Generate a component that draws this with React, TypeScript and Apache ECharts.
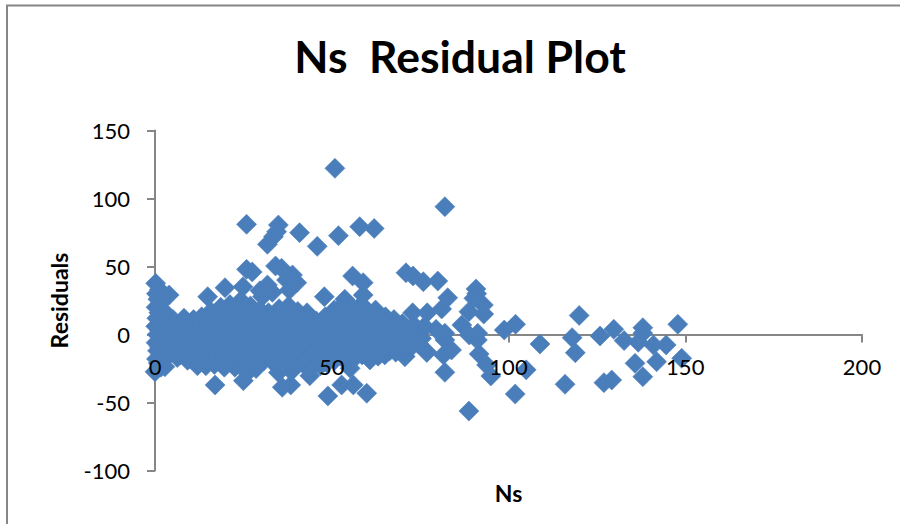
import React, { useEffect, useRef } from "react";
import * as echarts from "echarts";

const chartTitle = "Ns  Residual Plot";
const xTicks = [0, 50, 100, 150, 200];
const yTicks = [-100, -50, 0, 50, 100, 150];

const leftColumn: number[][] = [
  [0.2, 37.6], [1.2, 33], [0.4, 30], [0.8, 26], [1.5, 23], [0.3, 20], [1.1, 16], [2.2, 18], [4, 29], [0.5, 12], [1.8, 9], [3.1, 14],
  [0.2, 6], [1.3, 3], [2.6, 5], [0.6, 0], [1.9, -3], [0.3, -6], [1.2, -9], [2.8, -2], [0.7, -12], [1.6, -15], [0.4, -18], [2.5, -10],
  [0.9, -21], [0, -27.4], [2.8, -23.7], [3.6, -16], [1.7, -24],
];

const core: number[][] = [
  [5.1, 11], [5.6, 4], [4.8, -3], [5.4, -9], [5.9, -14],
  [8.2, 12], [7.6, 6], [8.4, 0], [7.8, -6], [8.1, -11], [7.2, -15],
  [10.9, 11], [10.3, 5], [11.2, -2], [10.6, -8], [11, -14], [10.1, -18],
  [13.2, 13], [13.8, 7], [12.9, 1], [13.5, -5], [13.1, -11], [13.7, -17], [12.6, -20],
  [15.8, 17], [16.3, 10], [15.5, 4], [16.1, -3], [15.7, -9], [16.4, -15], [15.2, -20], [16.8, -22],
  [18.6, 20], [18.1, 13], [18.9, 7], [18.3, 0], [19, -6], [18.4, -12], [18.8, -18], [19.6, -24],
  [21.2, 22], [21.7, 16], [20.9, 9], [21.5, 3], [21.1, -4], [21.8, -10], [21, -16], [21.6, -21],
  [24.3, 25], [23.8, 18], [24.5, 12], [24, 5], [24.6, -1], [23.9, -8], [24.4, -14], [24.1, -20], [24.9, -25],
  [27, 21], [26.6, 15], [27.3, 9], [26.8, 2], [27.4, -5], [26.7, -11], [27.2, -17], [27.7, -22],
  [29.7, 18], [29.2, 12], [29.9, 6], [29.4, -1], [30, -7], [29.3, -12], [30.4, -14],
  [32.1, 16], [32.6, 10], [31.9, 3], [32.5, -3], [32, -9], [32.7, -15], [33.2, -20],
  [35.1, 19], [34.7, 13], [35.4, 7], [34.9, 0], [35.5, -6], [34.8, -12], [35.2, -18], [35.9, -24], [34.9, -28],
  [37.8, 21], [37.3, 15], [38, 9], [37.5, 2], [38.2, -4], [37.6, -10], [38.1, -16], [37.4, -22], [38.6, -27],
  [40.4, 17], [39.9, 11], [40.6, 5], [40.1, -2], [40.7, -8], [40, -14], [40.5, -20],
  [43, 16], [42.6, 9], [43.3, 3], [42.8, -3], [43.4, -9], [42.7, -15], [43.1, -21], [43.6, -26],
  [45.6, 10], [45.2, 4], [45.9, -2], [45.4, -8], [46, -14], [45.3, -20],
  [48.2, 13], [47.8, 7], [48.4, 1], [47.9, -5], [48.5, -11], [48, -17], [48.6, -21],
  [50.7, 18], [50.2, 12], [50.9, 5], [50.4, -1], [51, -7], [50.3, -13], [50.8, -19],
  [53.3, 22], [52.8, 16], [53.5, 10], [53, 3], [53.6, -3], [52.9, -9], [53.4, -15], [54.1, -20],
  [55.8, 20], [55.4, 13], [56, 7], [55.5, 0], [56.2, -6], [55.6, -12], [56.6, -17],
  [58.4, 22], [58, 15], [58.7, 9], [58.2, 2], [58.8, -4], [58.1, -10], [58.6, -15],
  [60.9, 15], [60.5, 9], [61.2, 3], [60.7, -3], [61.3, -9], [60.6, -14],
  [63.5, 14], [63, 8], [63.7, 1], [63.2, -5], [63.8, -11], [62.4, 18], [63.1, -16],
  [66.1, 9], [65.6, 3], [66.3, -3], [65.8, -8], [66.4, -12], [65.2, 13], [67.6, 11],
  [68.7, 6], [68.2, 0], [68.9, -5], [68.4, -9], [68.1, -13], [70, 8],
  [71, 3], [70.6, -2], [71.3, -7], [73.2, 7], [73.6, -3], [71.8, -11], [74.6, -7], [76.2, 6], [75.4, -3],
  [6.3, -17], [9.2, -19], [12, -23], [14.4, -23], [22.6, -24], [28.6, -25], [30.9, -19], [46.8, -23], [44.7, -18],
];

const upperScatter: number[][] = [
  [50.9, 122.2], [25.9, 81], [34.9, 80.5], [34.4, 75.6], [33.5, 71.9], [31.8, 66.3], [40.9, 74.9], [45.9, 64.8], [51.9, 72.7],
  [57.9, 79.3], [62, 78], [25.9, 47.9], [24.9, 35.1], [19.8, 34.4], [14.9, 27.8], [34.1, 50.4], [35.8, 48.7], [38.9, 43.8],
  [40.1, 38.1], [31.8, 36.4], [29.7, 32.2], [38, 32.7], [47.9, 27.8], [55.9, 43], [58.9, 38.1], [58.9, 29], [53.7, 25.9],
  [37.2, 40], [27.5, 46], [30.4, 28], [33.2, 31],
];

const lowerScatter: number[][] = [
  [17, -37.1], [25, -34], [26.4, -27.4], [36, -38.8], [38.4, -37.1], [43.8, -30.3], [48.9, -45.2], [52.8, -37.1], [56.1, -37.1],
  [59.9, -43.2], [55.2, -24.9], [60.8, -18.7], [65, -15], [70.7, -16.3], [76.9, -13.1],
];

const tail: number[][] = [
  [82, 94], [71, 45.4], [73, 43], [75.9, 38.8], [80, 39.3], [82.8, 27], [81.1, 18.8], [77, 16], [72.9, 16], [75, 2],
  [90.8, 33.5], [90.2, 26.6], [92.9, 21.7], [88.8, 16.8], [93, 15], [91, 30], [86.8, 7], [88.9, -0.4], [91.3, 0.9], [91.2, -4],
  [74.8, 0.9], [79.5, 3.8], [82, 0.9], [82, -4], [83.9, -11.4], [81.6, -15], [76.9, -13], [70.7, -16], [82, -27.8],
  [91.7, -14.3], [93.8, -22.4], [95, -30.5], [98.8, 3.3], [102, 7.5], [105, -26], [108.9, -7], [101.9, -43.8], [88.8, -56.3],
  [118, -2.3], [120, 14], [118.9, -13.4], [116, -36.6], [125.9, -1.1], [129.8, 3.8], [127, -35.4], [129.2, -33.5],
  [132.7, -4.5], [136.7, -5.7], [138, 5], [138, 1], [135.8, -21.2], [138, -31], [141, -7.7], [144.6, -7.7], [141.9, -20],
  [147.9, 7.5], [149, -17.5],
];

const residualPoints = [...core, ...leftColumn, ...upperScatter, ...lowerScatter, ...tail];

const INK = "#000000";
const AXIS_GREY = "#868686";
const MARK = "#4a7ebb";
const FONT = "Lato";
const ZERO_OFFSET = -136; // raises the x axes from the grid's bottom (-100) to the line y = 0

export default function App() {
  const ref = useRef<HTMLDivElement>(null);
  useEffect(() => {
    document.body.style.margin = "0";
    const chart = echarts.init(ref.current!, undefined, { renderer: "svg" });
    const grid = { left: 155, right: 38, top: 130.5, bottom: 53.5, outerBoundsMode: "none" };
    chart.setOption({
      animation: false,
      backgroundColor: "#ffffff",
      title: {
        text: chartTitle,
        left: 455,
        top: 28,
        textAlign: "center",
        textStyle: { fontFamily: FONT, fontWeight: "bold", fontSize: 44.5, color: INK },
      },
      grid,
      graphic: [
        { type: "polyline", silent: true, shape: { points: [[7, 524], [7, 5.5], [900, 5.5]] }, style: { stroke: AXIS_GREY, lineWidth: 2, fill: "none" } },
      ],
      xAxis: [
        {
          type: "value", min: xTicks[0], max: xTicks[xTicks.length - 1], interval: 50, z: 0,
          position: "bottom", offset: ZERO_OFFSET,
          splitLine: { show: false }, axisLabel: { show: false },
          axisLine: { onZero: false, lineStyle: { color: AXIS_GREY, width: 2 } },
          axisTick: { show: true, length: 8, lineStyle: { color: AXIS_GREY, width: 2 } },
        },
        {
          type: "value", min: xTicks[0], max: xTicks[xTicks.length - 1], interval: 50, z: 10,
          position: "bottom", offset: ZERO_OFFSET,
          splitLine: { show: false },
          axisLine: { show: false, onZero: false }, axisTick: { show: false },
          axisLabel: { color: INK, fontFamily: FONT, fontSize: 22, margin: 21 },
          name: "Ns", nameLocation: "middle", nameGap: 147,
          nameTextStyle: { fontFamily: FONT, fontWeight: "bold", fontSize: 23, color: INK },
        },
      ],
      yAxis: {
        type: "value", min: yTicks[0], max: yTicks[yTicks.length - 1], interval: 50, z: 0,
        splitLine: { show: false },
        axisLine: { show: true, onZero: false, lineStyle: { color: AXIS_GREY, width: 2 } },
        axisTick: { show: true, length: 8, lineStyle: { color: AXIS_GREY, width: 2 } },
        axisLabel: { color: INK, fontFamily: FONT, fontSize: 22, margin: 25 },
        name: "Residuals", nameLocation: "middle", nameGap: 85, nameRotate: 90,
        nameTextStyle: { fontFamily: FONT, fontWeight: "bold", fontSize: 23, color: INK },
      },
      series: [
        {
          type: "scatter", xAxisIndex: 0, yAxisIndex: 0, z: 5, clip: false,
          symbol: "diamond", symbolSize: 20,
          itemStyle: { color: MARK, borderColor: "#4f81bd", borderWidth: 0.6, opacity: 1 },
          data: residualPoints,
        },
      ],
    });
    return () => chart.dispose();
  }, []);
  return <div ref={ref} style={{ position: "absolute", left: 0, top: 0, width: 900, height: 524 }} />;
}
